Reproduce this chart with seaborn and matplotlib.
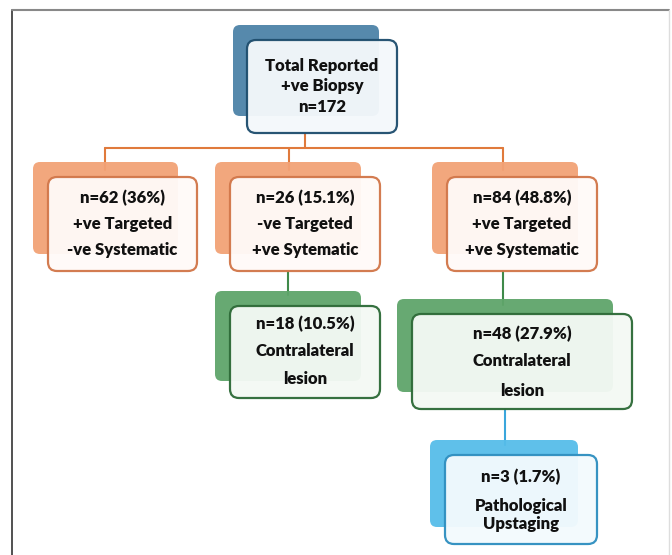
import numpy as np
import matplotlib
matplotlib.use("Agg")
import matplotlib.pyplot as plt
from matplotlib.patches import FancyBboxPatch
import seaborn as sns

total_n = 172
total_lines = ["Total Reported", "+ve Biopsy", "n=" + str(total_n)]
counts = [62, 26, 84, 18, 48, 3]
pcts = ["36%", "15.1%", "48.8%", "10.5%", "27.9%", "1.7%"]
descs = [
    ["+ve Targeted", "-ve Systematic"],
    ["-ve Targeted", "+ve Sytematic"],
    ["+ve Targeted", "+ve Systematic"],
    ["Contralateral", "lesion"],
    ["Contralateral", "lesion"],
    ["Pathological", "Upstaging"],
]

# layout (pixels): front box x0, y0, x1, y1 ; text line offsets ; colours
front = [
    (48, 177, 197, 271),
    (230, 177, 380, 271),
    (447, 177, 597, 271),
    (230, 306, 380, 398),
    (412, 314, 632, 409),
    (445, 455, 597, 544),
]
top_box = (247, 40, 397, 133)
offsets = [
    [-26, 0, 26],
    [-26, 0, 26],
    [-26, 0, 26],
    [-28, -1, 27],
    [-28, 0, 29],
    [-23, 6, 25],
]
pal = {
    "blue":  ("#4d83a8", "#1f4e6e", "#f4f8fb"),
    "orange": ("#f2a276", "#d2774a", "#fffaf8"),
    "green": ("#5fa56a", "#2e6b38", "#f4f9f4"),
    "sky":   ("#56bde9", "#2f8fc0", "#f3fafd"),
}
kinds = ["orange", "orange", "orange", "green", "green", "sky"]

sns.set_style("white")
plt.rcParams["font.family"] = ["Lato", "DejaVu Sans"]

fig = plt.figure(figsize=(6.72, 5.55), dpi=100)
ax = fig.add_axes([0, 0, 1, 1])
ax.set_xlim(0, 672)
ax.set_ylim(555, 0)
ax.axis("off")

# outer frame
ax.plot([12, 12], [555, 10], color="#333333", lw=1.2)
ax.plot([12, 669], [10, 10], color="#888888", lw=1.5)
ax.plot([669, 669], [10, 555], color="#dddddd", lw=1)


def draw_box(box, kind, lines, offs, dx=15, dy=15):
    x0, y0, x1, y1 = box
    shade, edge, face = pal[kind]
    sh = FancyBboxPatch((x0 - dx, y0 - dy), x1 - x0 - 4, y1 - y0 - 2,
                        boxstyle="round,pad=0,rounding_size=7",
                        fc=shade, ec="none", alpha=0.95, zorder=2)
    ax.add_patch(sh)
    fr = FancyBboxPatch((x0, y0), x1 - x0, y1 - y0,
                        boxstyle="round,pad=0,rounding_size=9",
                        fc=face, ec=edge, lw=1.6, alpha=0.96, zorder=3)
    ax.add_patch(fr)
    cx = (x0 + x1) / 2
    cy = (y0 + y1) / 2
    for t, o in zip(lines, offs):
        ax.text(cx, cy + o, t, ha="center", va="center", fontsize=12,
                fontweight="heavy", color="#111111", zorder=4)


# connectors
orange = "#e07a3c"
ax.plot([305, 305], [133, 148], color=orange, lw=1.5, zorder=1)
ax.plot([105, 503], [148, 148], color=orange, lw=1.5, zorder=1)
for x in [105, 289, 503]:
    ax.plot([x, x], [148, 170], color=orange, lw=1.5, zorder=1)
ax.plot([288, 288], [271, 295], color="#3f8a4a", lw=1.5, zorder=1)
ax.plot([503, 503], [271, 305], color="#3f8a4a", lw=1.5, zorder=1)
ax.plot([505, 505], [409, 445], color="#3aa6dc", lw=1.5, zorder=1)

draw_box(top_box, "blue", total_lines, [-21, 0, 21], dx=14, dy=15)
for i in range(len(counts)):
    lines = ["n=%d (%s)" % (counts[i], pcts[i])] + descs[i]
    draw_box(front[i], kinds[i], lines, offsets[i])

fig.savefig("out.png", dpi=100)
